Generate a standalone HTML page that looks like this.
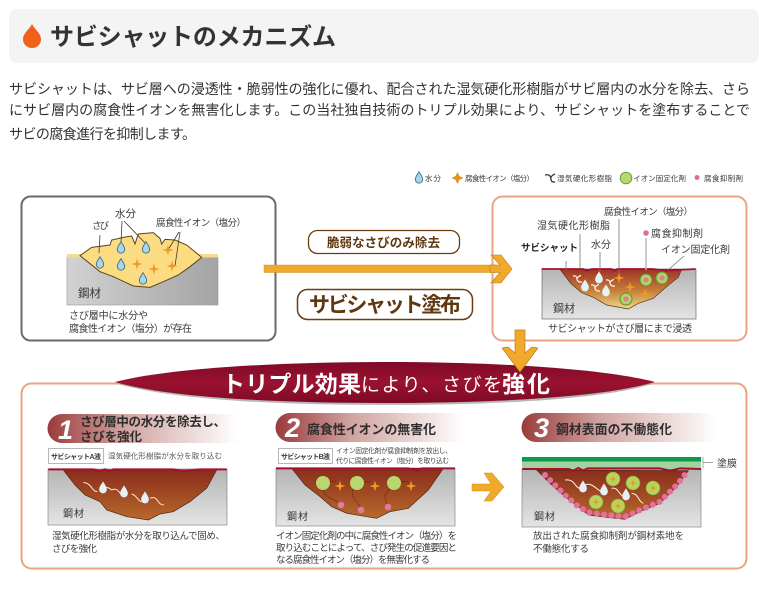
<!DOCTYPE html>
<html lang="ja"><head><meta charset="utf-8"><style>
html,body{margin:0;padding:0;background:#fff;width:767px;height:593px;overflow:hidden}
svg{display:block}
text{font-family:"Liberation Sans","Noto Sans CJK JP",sans-serif;fill:#3a3a3a}
.b{font-weight:700}
</style></head><body>
<svg width="767" height="593" viewBox="0 0 767 593" xmlns="http://www.w3.org/2000/svg">
<defs>
<linearGradient id="steel" x1="0" y1="0" x2="1" y2="0"><stop offset="0" stop-color="#d2d2d2"/><stop offset="1" stop-color="#a4a4a4"/></linearGradient>
<linearGradient id="steel2" x1="0" y1="0" x2="0" y2="1"><stop offset="0" stop-color="#b4b4b4"/><stop offset="1" stop-color="#e4e4e4"/></linearGradient>
<linearGradient id="rust2" x1="0" y1="0" x2="0" y2="1"><stop offset="0" stop-color="#9e3325"/><stop offset=".55" stop-color="#c6803c"/><stop offset="1" stop-color="#f2d888"/></linearGradient>
<linearGradient id="rust3" x1="0" y1="0" x2="0" y2="1"><stop offset="0" stop-color="#8a2c1c"/><stop offset="1" stop-color="#b8692c"/></linearGradient>
<linearGradient id="pill" x1="0" y1="0" x2="1" y2="0"><stop offset="0" stop-color="#9a3b3b"/><stop offset=".4" stop-color="#d0a3a0"/><stop offset="1" stop-color="#fff"/></linearGradient>
<linearGradient id="ban" x1="0" y1="0" x2="0" y2="1"><stop offset="0" stop-color="#7f0a26"/><stop offset=".5" stop-color="#9a1231"/><stop offset="1" stop-color="#7e0a25"/></linearGradient>
<g id="drop"><path transform="scale(1.15)" d="M0-5.500C1.500-2.800 3.200-1 3.200 1.300A3.200 3.200 0 0 1-3.200 1.300C-3.200-1-1.500-2.800 0-5.500Z" fill="#a9d5ea" stroke="#3d6f8e" stroke-width=".8"/></g>
<g id="wdrop"><path transform="scale(1.2)" d="M0-5.500C1.500-2.800 3.200-1 3.200 1.300A3.200 3.200 0 0 1-3.200 1.300C-3.200-1-1.500-2.800 0-5.500Z" fill="#e4f2f8"/></g>
<path id="star" d="M0-5.500L1.200-1.200L5.500 0L1.200 1.200L0 5.500L-1.200 1.200L-5.500 0L-1.200-1.200Z" fill="#ef9a22"/>
<path id="resin" d="M-5-3C-2-3.500-1-2-1 0S1 3.500 4 3M-1-.5C0-2.500 1-3 3-3.500" fill="none" stroke="#fff3e4" stroke-width="1.200"/>
<g id="fix"><circle r="6" fill="#b4d264" stroke="#5f8f35" stroke-width="1"/><circle r="2.500" fill="#df7ba1"/></g>
<g id="fixs"><circle r="7" fill="#b9d25a" stroke="#7a9c3a" stroke-width=".6"/><path transform="scale(.6)" d="M0-5.500L1.200-1.200L5.500 0L1.200 1.200L0 5.500L-1.200 1.200L-5.500 0L-1.200-1.200Z" fill="#ef8f1a"/></g>
</defs>

<!-- header -->
<rect x="9" y="9" width="750" height="54" rx="8" fill="#f4f4f4"/>
<path d="M32 24C35 30 41 33 41 39.500A9 8.500 0 0 1 23 39.500C23 33 29 30 32 24Z" fill="#f0601a"/>
<text x="50" y="45" font-size="24" class="b" textLength="286" style="fill:#333">サビシャットのメカニズム</text>
<text x="9" y="94" font-size="14" textLength="741" style="fill:#333">サビシャットは、サビ層への浸透性・脆弱性の強化に優れ、配合された湿気硬化形樹脂がサビ層内の水分を除去、さら</text>
<text x="9" y="115" font-size="14" textLength="741" style="fill:#333">にサビ層内の腐食性イオンを無害化します。この当社独自技術のトリプル効果により、サビシャットを塗布することで</text>
<text x="9" y="139" font-size="14" textLength="187" style="fill:#333">サビの腐食進行を抑制します。</text>

<!-- legend -->
<use href="#drop" x="419" y="178"/>
<text x="425" y="181" font-size="7.500" textLength="16">水分</text>
<path transform="translate(457.500 178)" d="M0-5.500L1.800-1.800L5.500 0L1.800 1.800L0 5.500L-1.800 1.800L-5.500 0L-1.800-1.800Z" fill="#e8951c" stroke="#a8650f" stroke-width=".3"/>
<text x="465" y="181" font-size="7.500" textLength="69">腐食性イオン（塩分）</text>
<path d="M545 175C549 174 551 176 551 179S553 182 555 182M551 177C552 175 553 175 555 174" fill="none" stroke="#333" stroke-width="1.300"/>
<text x="557" y="181" font-size="7.500" textLength="55">湿気硬化形樹脂</text>
<circle cx="626" cy="178" r="5.800" fill="#b9d76e" stroke="#6b9c45" stroke-width="1"/>
<text x="633" y="181" font-size="7.500" textLength="53">イオン固定化剤</text>
<circle cx="697" cy="177.500" r="2.500" fill="#d9708f"/>
<text x="704" y="181" font-size="7.500" textLength="39">腐食抑制剤</text>

<!-- panel 1 -->
<rect x="21.500" y="196.500" width="254" height="144" rx="9" fill="#fff" stroke="#6a6a6a" stroke-width="2"/>
<rect x="67" y="257" width="151" height="48" fill="url(#steel)" stroke="#999" stroke-width=".6"/>
<rect x="67" y="254" width="151" height="3.500" fill="#f7dc8e"/>
<g transform="translate(0 160) scale(.33333)">
<path d="M240 287L275 262L330 255L335 240L370 232L395 228L405 252L415 222L460 218L480 235L485 252L495 238L525 240L560 255L605 292L570 320L535 345L490 365L450 382L400 378L340 350L300 335Z" fill="#fbdc82" stroke="#5a4416" stroke-width="3"/>
</g>
<path d="M100 235L99 253M122 221L121 243M124 221L146 244M179 232L168 250M180 232L175 266" stroke="#4a3a20" stroke-width=".8" fill="none"/>
<use href="#drop" x="121" y="248"/><use href="#drop" x="146" y="248"/><use href="#drop" x="100" y="263"/><use href="#drop" x="121" y="265"/><use href="#drop" x="143" y="279"/>
<use href="#star" x="137" y="264"/><use href="#star" x="154" y="269"/><use href="#star" x="168" y="250"/><use href="#star" x="172" y="266"/>
<text x="92" y="229" font-size="9.500" textLength="17">さび</text>
<text x="115" y="217" font-size="10.500" textLength="21">水分</text>
<text x="156" y="226" font-size="9.500" textLength="90">腐食性イオン（塩分）</text>
<text x="78" y="297" font-size="11.500" textLength="23">鋼材</text>
<text x="69" y="319" font-size="10" textLength="79">さび層中に水分や</text>
<text x="69" y="332" font-size="10" textLength="123">腐食性イオン（塩分）が存在</text>

<!-- panel 2 -->
<rect x="492.500" y="196.500" width="254" height="144" rx="10" fill="#fff" stroke="#eba47f" stroke-width="2"/>
<rect x="542" y="269" width="154" height="50" fill="url(#steel2)" stroke="#555" stroke-width=".6"/>
<g transform="translate(480 160) scale(.33333)">
<path d="M240 328L272 370L305 398L340 412L380 435L445 447L475 430L520 415L560 380L595 352L605 328Z" fill="url(#rust2)" stroke="#5a3414" stroke-width="2"/>
<path d="M185 327L310 327L320 333L335 327L395 327L403 333L412 327L520 327L555 332L647 327" fill="none" stroke="#a50f30" stroke-width="5"/>
</g>
<path d="M566 261L566 270M580 234L580 269M600 252L600 272M619 219L619 273M684 256L668 270" stroke="#777" stroke-width=".8" fill="none"/>
<path d="M646 238L646 270" stroke="#bbb" stroke-width="1.500"/>
<circle cx="646" cy="233" r="2.800" fill="#d9708f"/>
<use href="#wdrop" x="599" y="278"/><use href="#wdrop" x="585" y="286"/><use href="#wdrop" x="606" y="291"/>
<use href="#resin" x="578" y="279"/><use href="#resin" x="596" y="288"/><use href="#resin" x="611" y="283"/>
<use href="#star" x="619" y="278"/><use href="#star" x="630" y="287"/><use href="#star" x="645" y="294"/>
<use href="#fix" x="646" y="280"/><use href="#fix" x="662" y="278"/><use href="#fix" x="626" y="299"/>
<text x="604" y="215" font-size="9.500" textLength="89">腐食性イオン（塩分）</text>
<text x="537" y="229" font-size="10" textLength="73">湿気硬化形樹脂</text>
<text x="651" y="237" font-size="10" textLength="52">腐食抑制剤</text>
<text x="521" y="251" font-size="9.500" class="b" textLength="57" style="fill:#222">サビシャット</text>
<text x="591" y="248" font-size="10" textLength="20">水分</text>
<text x="661" y="253" font-size="10" textLength="69">イオン固定化剤</text>
<text x="553" y="312" font-size="11" textLength="22">鋼材</text>
<text x="548" y="332" font-size="10" textLength="144">サビシャットがさび層にまで浸透</text>

<!-- horizontal arrow -->
<rect x="264" y="265" width="232" height="7.500" fill="#f0a92b" stroke="#c98a1c" stroke-width=".4"/>
<path d="M491 255L501 255L512 269L501 283L491 283L500 272.500L490 272.500L490 265L500 265Z" fill="#f0a92b" stroke="#b77f17" stroke-width=".6"/>
<rect x="308.500" y="230.500" width="151" height="23" rx="9" fill="#fff" stroke="#6b3d10" stroke-width="1.300"/>
<text x="327" y="247" font-size="12.500" class="b" textLength="113" style="fill:#5f3710">脆弱なさびのみ除去</text>
<rect x="297.500" y="289.500" width="175" height="30" rx="10" fill="#fff" stroke="#6b3d10" stroke-width="1.500"/>
<text x="309" y="312" font-size="21" class="b" textLength="152" style="fill:#5f3710">サビシャット塗布</text>

<!-- panel 3 -->
<rect x="21.500" y="383.500" width="725" height="185" rx="10" fill="#fff" stroke="#eba47f" stroke-width="2"/>

<!-- banner -->
<path d="M118 384C175 400 280 405 385 405S600 400 652 384Z" fill="#888" opacity=".6"/>
<path d="M115 382C170 368 280 362 385 362S600 368 655 382C600 398 490 403 385 403S170 398 115 382Z" fill="url(#ban)"/>
<!-- down arrow -->
<path d="M502 348L508 347L515 353L515 330L525 330L525 353L532 347L538 348L520 372Z" fill="#f0a92b" stroke="#b77f17" stroke-width=".7"/>
<text x="222" y="392" font-size="23" class="b" textLength="139" style="fill:#fff">トリプル効果</text>
<text x="361" y="391" font-size="19" textLength="141" style="fill:#fff">により、さびを</text>
<text x="502" y="392" font-size="23" class="b" textLength="48" style="fill:#fff">強化</text>

<!-- step 1 -->
<path d="M62 414H238V443H62A14.500 14.500 0 0 1 62 414Z" fill="url(#pill)"/>
<text x="58" y="439" font-size="27" class="b" font-style="italic" style="fill:#fff">1</text>
<text x="80" y="426" font-size="12.500" class="b" textLength="146" style="fill:#2e2e2e">さび層中の水分を除去し、</text>
<text x="80" y="441" font-size="12.500" class="b" textLength="62" style="fill:#2e2e2e">さびを強化</text>
<rect x="48.500" y="448.500" width="55" height="15" fill="#fff" stroke="#999" stroke-width=".7"/>
<text x="51" y="459" font-size="7" class="b" textLength="50">サビシャットA液</text>
<text x="108" y="458.500" font-size="7.500" textLength="114" style="fill:#555">湿気硬化形樹脂が水分を取り込む</text>
<rect x="48" y="469" width="179" height="56" fill="url(#steel2)" stroke="#777" stroke-width=".6"/>
<g transform="translate(10 370) scale(.33333)">
<path d="M160 300L195 345L225 375L270 395L290 420L350 440L415 450L450 432L490 425L540 395L590 355L620 300Z" fill="url(#rust3)" stroke="#4a2410" stroke-width="2"/>
<path d="M115 298L250 298L270 303L285 298L300 303L310 298L420 298L490 298L520 303L570 298L650 298" fill="none" stroke="#a50f30" stroke-width="6"/>
<path d="M220 338C245 338 245 365 262 365M270 360C285 345 300 355 305 360C325 350 325 372 340 375M365 372C380 375 385 395 395 395M420 385C445 375 440 405 462 405" fill="none" stroke="#fbe8d0" stroke-width="3"/>
</g>
<use href="#wdrop" x="103" y="488"/><use href="#wdrop" x="124" y="492"/><use href="#wdrop" x="145" y="498"/>
<text x="63" y="517" font-size="10" textLength="21">鋼材</text>
<text x="52" y="539" font-size="9.500" textLength="173">湿気硬化形樹脂が水分を取り込んで固め、</text>
<text x="52" y="552" font-size="9.500" textLength="45">さびを強化</text>

<!-- step 2 -->
<path d="M290 413H464V442H290A14.500 14.500 0 0 1 290 413Z" fill="url(#pill)"/>
<text x="285" y="437" font-size="27" class="b" font-style="italic" style="fill:#fff">2</text>
<text x="307" y="434" font-size="13" class="b" textLength="129" style="fill:#2e2e2e">腐食性イオンの無害化</text>
<rect x="278.500" y="448.500" width="54" height="15" fill="#fff" stroke="#999" stroke-width=".7"/>
<text x="281" y="459" font-size="7" class="b" textLength="49">サビシャットB液</text>
<text x="336" y="453" font-size="6.800" textLength="116" style="fill:#444">イオン固定化剤が腐食抑制剤を放出し、</text>
<text x="336" y="463" font-size="6.800" textLength="113" style="fill:#444">代りに腐食性イオン（塩分）を取り込む</text>
<rect x="276" y="468" width="179" height="58" fill="url(#steel2)" stroke="#777" stroke-width=".6"/>
<g transform="translate(265 400) scale(.33333)">
<path d="M80 205L120 255L165 290L200 320L245 340L335 355L375 335L430 325L490 270L535 205Z" fill="url(#rust3)" stroke="#4a2410" stroke-width="2"/>
<path d="M33 205L430 205L455 212L470 205L490 205L570 205" fill="none" stroke="#a50f30" stroke-width="6"/>
<path d="M172 262C180 300 205 290 222 310M276 260C245 280 270 295 285 320M386 260C355 275 355 295 368 315M180 245H215M285 245H320M395 245H430" fill="none" stroke="#3a1a08" stroke-width="2" stroke-dasharray="4 3"/>
</g>
<g>
<circle cx="323" cy="483" r="7" fill="#b9d76e"/><circle cx="357" cy="483" r="7" fill="#b9d76e"/><circle cx="394" cy="483" r="7" fill="#b9d76e"/>
<use href="#star" x="340" y="486"/><use href="#star" x="375" y="486"/><use href="#star" x="411" y="486"/>
<circle cx="341" cy="505" r="3.300" fill="#df7ba1"/><circle cx="361" cy="510" r="3.300" fill="#df7ba1"/><circle cx="388" cy="507" r="3.300" fill="#df7ba1"/>
</g>
<text x="287" y="520" font-size="10" textLength="21">鋼材</text>
<text x="276" y="539" font-size="9.500" textLength="181">イオン固定化剤の中に腐食性イオン（塩分）を</text>
<text x="276" y="551" font-size="9.500" textLength="181">取り込むことによって、さび発生の促進要因と</text>
<text x="276" y="563" font-size="9.500" textLength="154">なる腐食性イオン（塩分）を無害化する</text>

<!-- mid arrow -->
<path d="M472 484H491L484 473H492L504 487L492 501H484L491 491H472Z" fill="#f0a92b" stroke="#c98a1c" stroke-width=".5"/>

<!-- step 3 -->
<path d="M536 413H716V442H536A14.500 14.500 0 0 1 536 413Z" fill="url(#pill)"/>
<text x="534" y="437" font-size="27" class="b" font-style="italic" style="fill:#fff">3</text>
<text x="556" y="434" font-size="12.800" class="b" textLength="116" style="fill:#2e2e2e">鋼材表面の不働態化</text>
<rect x="522" y="469" width="179" height="58" fill="url(#steel2)" stroke="#777" stroke-width=".6"/>
<rect x="522" y="457" width="179" height="12" fill="#a3d1a0"/>
<rect x="522" y="457" width="179" height="4.500" fill="#0d9a4a"/>
<g transform="translate(500 400) scale(.33333)">
<path d="M110 210L150 250L195 290L235 320L265 345L320 352L375 358L420 335L480 310L530 260L565 212Z" fill="url(#rust3)" stroke="#4a2410" stroke-width="2"/>
<path d="M67 207L205 207L220 212L235 204L250 212L262 205L420 205L480 205L510 212L540 205L603 207" fill="none" stroke="#a50f30" stroke-width="6"/>
<path d="M135 225L150 240L195 285L235 320L265 337L320 345L375 350L420 330L480 305L530 255L562 215" fill="none" stroke="#e56fa0" stroke-width="18" stroke-linecap="round" stroke-dasharray="0 22"/>
<path d="M195 240C225 235 225 265 240 265M255 255C275 245 290 270 305 275M335 265C355 260 355 285 372 290M395 280C415 280 415 305 430 310" fill="none" stroke="#fff3e4" stroke-width="3"/>
</g>
<use href="#wdrop" x="583" y="487"/><use href="#wdrop" x="604" y="490"/><use href="#wdrop" x="626" y="495"/>
<use href="#fixs" x="613" y="479"/><use href="#fixs" x="633" y="483"/><use href="#fixs" x="653" y="488"/><use href="#fixs" x="596" y="502"/><use href="#fixs" x="618" y="506"/>
<path d="M703 457V468M703 462.500H713" stroke="#888" stroke-width=".7" fill="none"/>
<text x="717" y="467" font-size="10" textLength="20">塗膜</text>
<text x="534" y="520" font-size="10" textLength="21">鋼材</text>
<text x="533" y="539" font-size="9.500" textLength="151">放出された腐食抑制剤が鋼材素地を</text>
<text x="533" y="552" font-size="9.500" textLength="56">不働態化する</text>
</svg>
</body></html>
